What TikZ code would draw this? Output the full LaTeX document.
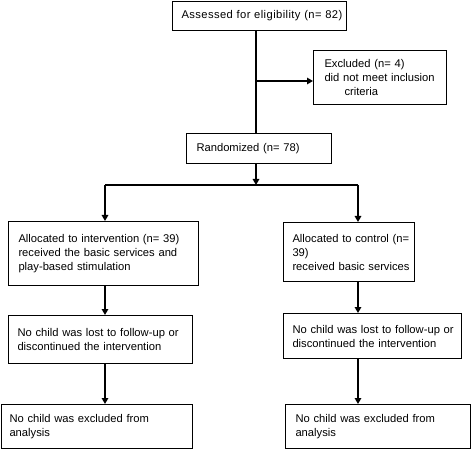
\documentclass[tikz,border=0pt]{standalone}
\usepackage{fontspec}
\setmainfont{Liberation Sans}
\newfontfamily\spacedfont[LetterSpace=3.6]{Liberation Sans}
\usetikzlibrary{arrows.meta}
\begin{document}
\begin{tikzpicture}[x=1pt,y=-1pt,
  box/.style={draw, line width=1pt, anchor=north west, inner xsep=9pt, inner ysep=0pt,
    align=left, font=\fontsize{11.2}{14}\selectfont},
  link/.style={line width=1.5pt},
  arr/.style={link, -{Triangle[length=6pt,width=6.5pt]}}]
\useasboundingbox (0,0) rectangle (474,449);
% boxes
\node[box, minimum width=174pt, minimum height=29pt, text width=156pt] (A) at (172,1) {\spacedfont\mbox{Assessed for eligibility (n= 82)}};
\node[box, minimum width=133pt, minimum height=54pt, inner xsep=11pt, text width=111pt] (E) at (313,50) {\mbox{Excluded (n= 4)}\\\mbox{did not meet inclusion}\\\mbox{\hspace*{20pt}criteria}};
\node[box, minimum width=145pt, minimum height=30pt, inner xsep=10pt, text width=125pt] (R) at (186,133) {\mbox{Randomized (n= 78)}};
\node[box, minimum width=190pt, minimum height=64pt, inner xsep=10pt, text width=170pt] (L1) at (8,221) {\mbox{Allocated to intervention (n= 39)}\\\mbox{received the basic services and}\\\mbox{play-based stimulation}};
\node[box, minimum width=131pt, minimum height=59pt, text width=113pt] (R1) at (283,222) {\mbox{Allocated to control (n=}\\\mbox{39)}\\\mbox{received basic services}};
\node[box, minimum width=184pt, minimum height=48pt, text width=166pt] (L2) at (8,315) {\mbox{No child was lost to follow-up or}\\\mbox{discontinued the intervention}};
\node[box, minimum width=178pt, minimum height=45pt, text width=160pt] (R2) at (283,313) {\mbox{No child was lost to follow-up or}\\\mbox{discontinued the intervention}};
\node[box, minimum width=191pt, minimum height=44pt, inner xsep=8pt, text width=175pt] (L3) at (1,404) {\mbox{No child was excluded from}\\\mbox{analysis}};
\node[box, minimum width=185pt, minimum height=44pt, inner xsep=10pt, text width=165pt] (R3) at (285,404) {\mbox{No child was excluded from}\\\mbox{analysis}};
% guide coordinates
\coordinate (spine) at (256,0);
\coordinate (br) at (256,81);
\coordinate (split) at (256,185);
\coordinate (lcol) at (105,185);
\coordinate (rcol) at (358,185);
% connectors
\draw[link] (A.south -| spine) -- (R.north -| spine);
\draw[arr] (br) -- (br -| E.west);
\draw[arr] (R.south -| spine) -- (split);
\draw[link] (lcol) -- (rcol);
\draw[arr] (lcol) -- (L1.north -| lcol);
\draw[arr] (rcol) -- (R1.north -| rcol);
\draw[arr] (L1.south -| lcol) -- (L2.north -| lcol);
\draw[arr] (R1.south -| rcol) -- (R2.north -| rcol);
\draw[arr] (L2.south -| lcol) -- (L3.north -| lcol);
\draw[arr] (R2.south -| rcol) -- (R3.north -| rcol);
\end{tikzpicture}
\end{document}
